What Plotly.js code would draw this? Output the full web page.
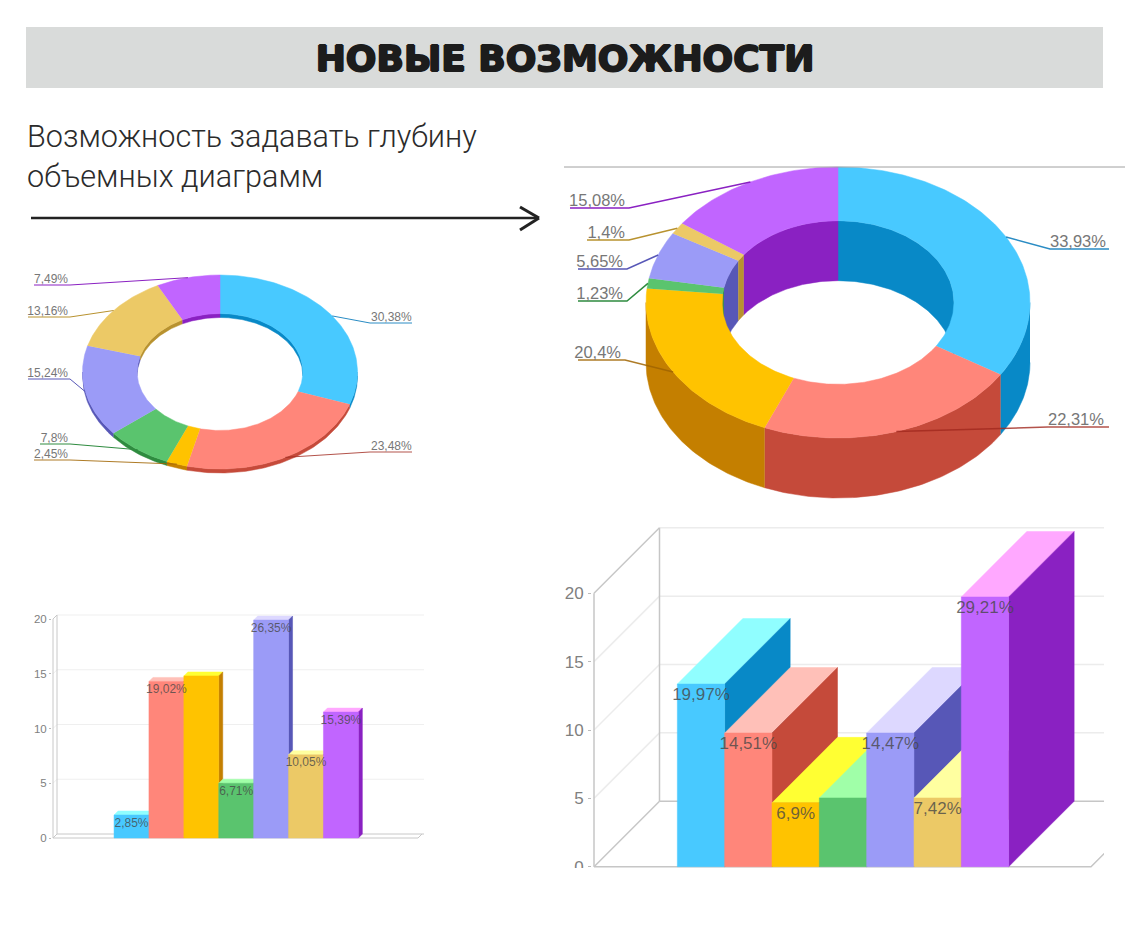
<!DOCTYPE html>
<html lang="ru">
<head>
<meta charset="utf-8">
<title>Новые возможности</title>
<script src="https://cdn.plot.ly/plotly-3.0.1.min.js"></script>
<style>html,body{margin:0;padding:0;background:#fff}#chart{width:1130px;height:930px}</style>
</head>
<body>
<div id="chart"></div>
<script>
// ---------- Data ----------
const titleText = 'НОВЫЕ ВОЗМОЖНОСТИ';
const subtitleText = 'Возможность задавать глубину<br>объемных диаграмм';

const donutLeftValues  = [30.38, 23.48, 2.45, 7.8, 15.24, 13.16, 7.49];
const donutRightValues = [33.93, 22.31, 20.4, 1.23, 5.65, 1.4, 15.08];

const barLeftHeights  = [2.1, 14.3, 14.8, 5.0, 19.9, 7.6, 11.5];
const barLeftLabels   = [2.85, 19.02, null, 6.71, 26.35, 10.05, 15.39];
const barRightHeights = [13.36, 9.78, 4.67, 5.03, 9.78, 5.03, 19.73];
const barRightLabels  = [19.97, 14.51, 6.9, null, 14.47, 7.42, 29.21];
const tickValues = [0, 5, 10, 15, 20];

// ---------- Styles ----------
const frontColors = ['#48C9FF','#FF867A','#FFC300','#5AC46E','#9B9BF7','#ECC966','#C165FF'];
const topColors   = ['#90FEFF','#FFC0B8','#FFFF33','#A0FFA8','#DDD8FF','#FFFFA0','#FFA8FF'];
const sideColors  = ['#0889C7','#C54A3A','#C47F00','#2E8B3F','#5757B7','#B8922F','#8A21C2'];
const leaderColors = ['#2A8CC4','rgba(160,40,30,0.8)','rgba(160,100,0,0.85)','#2E8B3F','#5757B7','#B8922F','#8A21C2'];

const W = 1130, H = 930;
const domX = (l, r) => [l / W, r / W];
const domY = (t, b) => [1 - b / H, 1 - t / H];
const fmt = v => String(v).replace('.', ',');

const traces = [];
function poly(xs, ys, color, ax) {
  traces.push({type:'scatter', mode:'lines', x:xs, y:ys, fill:'toself', fillcolor:color,
    line:{color:color, width:0.5}, xaxis:ax[0], yaxis:ax[1], hoverinfo:'skip', showlegend:false});
}
function line(xs, ys, color, width, ax) {
  traces.push({type:'scatter', mode:'lines', x:xs, y:ys, line:{color:color, width:width},
    xaxis:ax[0], yaxis:ax[1], hoverinfo:'skip', showlegend:false});
}
function texts(xs, ys, labels, positions, color, size, ax) {
  traces.push({type:'scatter', mode:'text', x:xs, y:ys, text:labels, textposition:positions,
    textfont:{family:'Liberation Sans, Arial, sans-serif', size:size, color:color},
    cliponaxis:false, xaxis:ax[0], yaxis:ax[1], hoverinfo:'skip', showlegend:false});
}

// ---------- Donuts: slices laid out from the values, squashed by the axis scales ----------
const arc = (a0, a1, r, dy) => {
  const n = Math.max(2, Math.ceil(Math.abs(a1 - a0)));
  const xs = [], ys = [];
  for (let i = 0; i <= n; i++) {
    const a = (a0 + (a1 - a0) * i / n) * Math.PI / 180;
    xs.push(r * Math.sin(a)); ys.push(r * Math.cos(a) + dy);
  }
  return [xs, ys];
};
function donut(values, g, ax) {
  const total = values.reduce((s, v) => s + v, 0);
  const starts = []; let acc = 0;
  values.forEach(v => { starts.push(acc / total * 360); acc += v; });
  const ends = values.map((v, i) => starts[i] + v / total * 360);
  const band = (a0, a1, r, color) => {
    const [x0, y0] = arc(a0, a1, r, 0);
    const [x1, y1] = arc(a1, a0, r, -g.depth);
    poly(x0.concat(x1), y0.concat(y1), color, ax);
  };
  // outer wall, front half
  values.forEach((v, i) => {
    const a0 = Math.max(starts[i], 90), a1 = Math.min(ends[i], 270);
    if (a1 > a0) band(a0, a1, 1, sideColors[i]);
  });
  // inner wall, back half
  values.forEach((v, i) => {
    const p0 = Math.min(ends[i], 90);
    if (p0 > starts[i]) band(starts[i], p0, g.inner, sideColors[i]);
    const p1 = Math.max(starts[i], 270);
    if (ends[i] > p1) band(p1, ends[i], g.inner, sideColors[i]);
  });
  // top faces
  values.forEach((v, i) => {
    const [x0, y0] = arc(starts[i], ends[i], 1, 0);
    const [x1, y1] = arc(ends[i], starts[i], g.inner, 0);
    poly(x0.concat(x1), y0.concat(y1), frontColors[i], ax);
  });
  // leader lines start on the rim at each slice's middle, labels sit on the shelf
  const lx = [], ly = [], lt = [], lp = [];
  values.forEach((v, i) => {
    const mid = (starts[i] + ends[i]) / 2 * Math.PI / 180;
    const ex = (g.elbowX[i] - g.cx) / g.rx, ey = (g.cy - g.rowY[i]) / g.ry;
    const tx = (g.endX[i] - g.cx) / g.rx;
    line([Math.sin(mid), ex, tx], [Math.cos(mid), ey, ey], leaderColors[i], g.lineW, ax);
    const isRight = g.endX[i] > g.elbowX[i];
    lx.push(ex + (isRight ? g.textShiftR : g.textShiftL) / g.rx);
    ly.push(ey - g.textDrop / g.ry);
    lt.push(fmt(v) + '%');
    lp.push(isRight ? 'top right' : 'top left');
  });
  texts(lx, ly, lt, lp, '#777', g.font, ax);
}

const gLeft = {cx:220, cy:372, rx:137.5, ry:97, inner:0.603, depth:4/97, lineW:1, font:12,
  textDrop:1, textShiftL:-2, textShiftR:1,
  elbowX:[370,370,70,70,70,70,70], endX:[412,412,34,40,28,28,34], rowY:[323,452,460,444,379,317,285]};
const gRight = {cx:838, cy:302.5, rx:192, ry:135.5, inner:0.604, depth:60/135.5, lineW:1.5, font:16.5,
  textDrop:2, textShiftL:-4, textShiftR:0,
  elbowX:[1050,1048,625,627,627,629,629], endX:[1109,1109,578,578,578,587,570], rowY:[249,427,360,301,269,240,208]};
donut(donutLeftValues, gLeft, ['x','y']);
donut(donutRightValues, gRight, ['x2','y2']);

// ---------- 3D columns: top, side, then front, painted left to right ----------
function bars(heights, labels, g, ax) {
  const bx = g.wallX + g.dx;
  tickValues.forEach(t => {
    const c = t === 0 || t === 20 ? g.edge : g.grid;
    line([g.wallX, bx], [t, t + g.dy], c, g.lw, ax);
    if (t === 0) line([bx, g.rangeEnd], [t + g.dy, t + g.dy], g.edge, g.lw, ax);
    else line([bx, g.rangeEnd], [t + g.dy, t + g.dy], g.grid, g.lw, ax);
  });
  line([g.wallX, g.wallX], [0, 20], g.edge, g.lw, ax);
  line([bx, bx], [g.dy, 20 + g.dy], g.edge, g.lw, ax);
  line([g.wallX, g.floorEnd, g.floorEnd + g.dx], [0, 0, g.dy], g.edge, g.lw, ax);

  heights.forEach((v, i) => {
    const L = i - 0.5, R = i + 0.5;
    poly([L, R, R + g.dx, L + g.dx, L], [v, v, v + g.dy, v + g.dy, v], topColors[i], ax);
    poly([R, R + g.dx, R + g.dx, R, R], [0, g.dy, v + g.dy, v, 0], sideColors[i], ax);
    poly([L, R, R, L, L], [0, 0, v, v, 0], frontColors[i], ax);
  });
  texts(heights.map((v, i) => i), heights.map(v => v - g.textDrop),
    labels.map(v => v === null ? '' : fmt(v) + '%'), 'bottom center',
    'rgba(70,70,70,0.78)', g.font, ax);
}
const sLeft  = {x0:131.5, sx:34.9, y0:838, sy:10.95};
const sRight = {x0:701, sx:47.33, y0:866.7, sy:13.67};
bars(barLeftHeights, barLeftLabels, {
  wallX:(53-sLeft.x0)/sLeft.sx, dx:4/sLeft.sx, dy:4/sLeft.sy, floorEnd:(418-sLeft.x0)/sLeft.sx,
  rangeEnd:(424-sLeft.x0)/sLeft.sx, edge:'#c8c8c8', grid:'#efefef', lw:1, font:12, textDrop:2.5/sLeft.sy}, ['x3','y3']);
bars(barRightHeights, barRightLabels, {
  wallX:(594-sRight.x0)/sRight.sx, dx:65.5/sRight.sx, dy:65.5/sRight.sy, floorEnd:(1091-sRight.x0)/sRight.sx,
  rangeEnd:(1104-sRight.x0)/sRight.sx, edge:'#c6c6c6', grid:'#ececec', lw:1.5, font:17, textDrop:3/sRight.sy}, ['x4','y4']);

// ---------- Layout ----------
const hidden = d => Object.assign({visible:false, fixedrange:true}, d);
const valueAxis = (g) => ({
  domain:g.domain, range:g.range, anchor:g.anchor, fixedrange:true, showgrid:false, zeroline:false,
  showline:false, tickmode:'array', tickvals:tickValues, ticks:'outside', ticklen:g.len, tickcolor:'#bbb',
  ticklabelstandoff:g.standoff, tickfont:{family:'Liberation Sans, Arial, sans-serif', size:g.size, color:'#808080'}
});
const layout = {
  width:W, height:H, margin:{l:0,r:0,t:0,b:0}, paper_bgcolor:'#ffffff', plot_bgcolor:'rgba(0,0,0,0)',
  showlegend:false,
  title:{text:titleText, x:0.5, xanchor:'center', y:1-58/H, yanchor:'middle',
    font:{family:'DejaVu Sans, sans-serif', size:36, weight:700, color:'#1c1c1c',
      shadow:'1px 0 0 #1c1c1c, -1px 0 0 #1c1c1c, 0 1px 0 #1c1c1c, 0 -1px 0 #1c1c1c'}},
  xaxis: hidden({domain:domX(20,425), range:[(20-gLeft.cx)/gLeft.rx,(425-gLeft.cx)/gLeft.rx], anchor:'y'}),
  yaxis: hidden({domain:domY(265,485), range:[(gLeft.cy-485)/gLeft.ry,(gLeft.cy-265)/gLeft.ry], anchor:'x'}),
  xaxis2:hidden({domain:domX(564,1125), range:[(564-gRight.cx)/gRight.rx,(1125-gRight.cx)/gRight.rx], anchor:'y2'}),
  yaxis2:hidden({domain:domY(160,505), range:[(gRight.cy-505)/gRight.ry,(gRight.cy-160)/gRight.ry], anchor:'x2'}),
  xaxis3:hidden({domain:domX(52,424), range:[(52-sLeft.x0)/sLeft.sx,(424-sLeft.x0)/sLeft.sx], anchor:'y3'}),
  yaxis3:valueAxis({domain:domY(605,845), range:[(sLeft.y0-845)/sLeft.sy,(sLeft.y0-605)/sLeft.sy], anchor:'x3', size:11.5, standoff:0, len:2}),
  xaxis4:hidden({domain:domX(592,1104), range:[(592-sRight.x0)/sRight.sx,(1104-sRight.x0)/sRight.sx], anchor:'y4'}),
  yaxis4:valueAxis({domain:domY(520,868), range:[(sRight.y0-868)/sRight.sy,(sRight.y0-520)/sRight.sy], anchor:'x4', size:17, standoff:1, len:3}),
  shapes:[
    {type:'rect', xref:'paper', yref:'paper', layer:'below', x0:26/W, x1:1103/W, y0:1-27/H, y1:1-88/H,
      fillcolor:'#D9DBDA', line:{width:0}},
    {type:'line', xref:'paper', yref:'paper', x0:564/W, x1:1125/W, y0:1-167/H, y1:1-167/H, line:{color:'#a0a0a0', width:1}},
    {type:'line', xref:'paper', yref:'paper', x0:31/W, x1:538/W, y0:1-218/H, y1:1-218/H, line:{color:'#222', width:2.5}},
    {type:'line', xref:'paper', yref:'paper', x0:520/W, x1:539/W, y0:1-207/H, y1:1-218/H, line:{color:'#222', width:3}},
    {type:'line', xref:'paper', yref:'paper', x0:520/W, x1:539/W, y0:1-230/H, y1:1-218/H, line:{color:'#222', width:3}},
    {type:'rect', xref:'paper', yref:'paper', layer:'above', x0:555/W, x1:591/W, y0:1-868/H, y1:1-890/H,
      fillcolor:'#ffffff', line:{width:0}}
  ],
  annotations:[
    {text:subtitleText, xref:'paper', yref:'paper', x:25/W, y:1-116.5/H, xanchor:'left', yanchor:'top', align:'left',
      showarrow:false, font:{family:'Roboto, sans-serif', size:30.6, weight:300, color:'#2b2b2b'}}
  ]
};
Plotly.newPlot('chart', traces, layout, {displayModeBar:false, staticPlot:true});
</script>
</body>
</html>
